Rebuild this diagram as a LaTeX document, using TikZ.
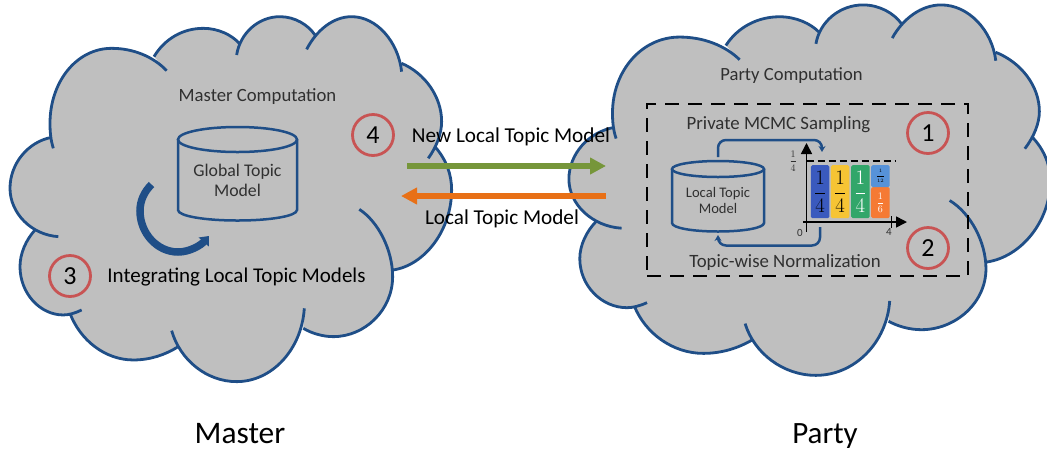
\documentclass[tikz,border=0pt]{standalone}
\usepackage{amsmath}
\usepackage{fontspec}
\setmainfont{Carlito}
\usepackage{tikz}
\usetikzlibrary{arrows.meta}
\definecolor{cloudgray}{RGB}{191,191,191}
\definecolor{cloudblue}{RGB}{31,78,135}
\definecolor{ringred}{RGB}{200,84,84}
\definecolor{inkgray}{RGB}{48,48,48}
\definecolor{newgreen}{RGB}{118,150,58}
\definecolor{localorange}{RGB}{232,112,22}
\definecolor{barblue}{RGB}{58,90,190}
\definecolor{baryellow}{RGB}{246,196,52}
\definecolor{bargreen}{RGB}{50,166,106}
\definecolor{barsky}{RGB}{86,146,216}
\definecolor{barorange}{RGB}{245,122,52}
\newcommand*{\fsize}[1]{\fontsize{#1}{#1}\selectfont}
% lobes of one cloud; #1 joins them (-- for the fill, nothing for the outline)
\newcommand*{\cloudlobes}[1]{
(160,445) .. controls (152,420) and (150,395) .. (150,370) .. controls (150,245) and (230,145) .. (335,145) .. controls (400,145) and (460,170) .. (500,212) #1
(462,170) .. controls (495,115) and (550,85) .. (610,85) .. controls (655,85) and (695,105) .. (718,130) #1
(710,165) .. controls (720,100) and (775,50) .. (840,50) .. controls (885,50) and (925,75) .. (945,105) #1
(920,148) .. controls (950,90) and (1000,50) .. (1055,50) .. controls (1130,50) and (1195,125) .. (1205,215) #1
(1205,190) .. controls (1275,220) and (1325,290) .. (1325,365) .. controls (1325,400) and (1310,440) .. (1285,475) #1
(1305,440) .. controls (1340,480) and (1355,525) .. (1355,570) .. controls (1355,690) and (1275,795) .. (1180,810) #1
(1078,628) .. controls (1135,665) and (1178,750) .. (1178,830) .. controls (1178,930) and (1095,1010) .. (1000,1010) .. controls (968,1010) and (935,1000) .. (910,985) #1
(913,925) .. controls (905,1050) and (815,1145) .. (710,1145) .. controls (620,1145) and (540,1080) .. (515,992) #1
(535,1040) .. controls (495,1065) and (450,1080) .. (400,1080) .. controls (315,1080) and (240,1020) .. (210,940) #1
(245,930) .. controls (225,940) and (205,945) .. (190,945) .. controls (120,945) and (60,880) .. (60,800) .. controls (60,760) and (78,720) .. (105,690) #1
(175,710) .. controls (95,705) and (30,640) .. (30,565) .. controls (30,490) and (85,425) .. (155,412)
}
\begin{document}
\begin{tikzpicture}[x=1pt, y=-1pt,
every text node part/.style={align=center},
store/.style={draw=cloudblue, line width=2.5pt},
str/.style={rectangle, inner sep=0pt, text=inkgray},
step label/.style={circle, draw=ringred, line width=2.8pt, minimum size=41pt, inner sep=0pt, text=black, font=\fsize{26}},
bar/.style={rectangle, inner sep=0pt, minimum width=18.5pt, rounded corners=1.5pt, anchor=north west},
loop/.style={-{Stealth[length=6pt,width=7pt]}, draw=cloudblue, line width=2.5pt, rounded corners=8pt},
axis/.style={-{Triangle[length=11pt,width=11pt]}, black, line width=1.6pt},
flow/.style={-{Triangle[length=16pt,width=16pt]}, line width=5.5pt}]

\useasboundingbox (0,0) rectangle (1047,451);

% clouds
\begin{scope}[x=0.3333pt, y=-0.3333pt]
\fill[cloudgray] \cloudlobes{--} -- cycle;
\draw[cloudblue, line width=2.8pt] \cloudlobes{};
\end{scope}
\begin{scope}[shift={(558,-12)}, x=0.3633pt, y=-0.3383pt]
\fill[cloudgray] \cloudlobes{--} -- cycle;
\draw[cloudblue, line width=2.8pt] \cloudlobes{};
\end{scope}

% master side
\node[str, font=\fsize{18.7}] (mastertitle) at (257.5,96.5) {Master Computation};
\draw[store] (178,139.5) .. controls +(0,-7) and +(-33,0) .. (237.5,127) .. controls +(33,0) and +(0,-7) .. (297,139.5)
 .. controls +(0,7) and +(33,0) .. (237.5,152) .. controls +(-33,0) and +(0,7) .. cycle;
\draw[store] (178,139.5) -- (178,210) .. controls +(0,6) and +(-33,0) .. (237.5,220.5) .. controls +(33,0) and +(0,6) .. (297,210) -- (297,139.5);
\node[str, font=\fsize{17.8}] (globaldb) at (237.5,180) {Global Topic\\[2pt]Model};
\draw[cloudblue, line width=7.5pt, -{Triangle[length=8pt,width=13pt]}] (151.5,184.5) .. controls (144,192) and (140,201) .. (140,211)
 .. controls (140,233) and (157,252) .. (178,252) .. controls (190,252) and (201,245) .. (209,236);
\node[step label] (step3) at (70,276) {3};
\node[str, text=black, font=\fsize{21}] (integrate) at (236.5,277.5) {Integrating Local Topic Models};
\node[step label] (step4) at (373,135) {4};

% messages
\coordinate (newstart) at (407,166);
\coordinate (newend) at (606,166);
\coordinate (localstart) at (606,196);
\coordinate (localend) at (401,196);
\draw[flow, newgreen] (newstart) -- (newend);
\draw[flow, localorange] (localstart) -- (localend);
\node[str, text=black, font=\fsize{21.2}] (newmodel) at (511,137) {New Local Topic Model};
\node[str, text=black, font=\fsize{21.2}] (localmodel) at (502,219) {Local Topic Model};

% party side
\node[str, font=\fsize{18.6}] (partytitle) at (791.5,76) {Party Computation};
\node[rectangle, draw=black, line width=2.2pt, dash pattern=on 14pt off 9pt, minimum width=321pt, minimum height=172pt, inner sep=0pt] (privatebox) at (807.5,190) {};
\node[str, font=\fsize{18.8}] (sampling) at (778.5,125) {Private MCMC Sampling};
\node[str, font=\fsize{18.8}] (normal) at (785,262) {Topic-wise Normalization};
\node[step label] (step1) at (928,133) {1};
\node[step label] (step2) at (928,248) {2};
\draw[store] (672,169) .. controls +(0,-4.5) and +(-25,0) .. (718,161) .. controls +(25,0) and +(0,-4.5) .. (764,169)
 .. controls +(0,4.5) and +(25,0) .. (718,177) .. controls +(-25,0) and +(0,4.5) .. cycle;
\draw[store] (672,169) -- (672,223) .. controls +(0,5) and +(-25,0) .. (718,231.5) .. controls +(25,0) and +(0,5) .. (764,223) -- (764,169);
\node[str, font=\fsize{14.6}] (localdb) at (718,200.5) {Local Topic\\[1pt]Model};

% chart
\coordinate (yfoot) at (806.5,232);
\coordinate (ytop) at (806.5,143);
\coordinate (xfoot) at (803,222);
\coordinate (xtip) at (907,222);
\coordinate (dashstart) at (806.5,161);
\coordinate (dashend) at (895,161);
\coordinate (ticktop) at (891.5,216);
\coordinate (tickfoot) at (891.5,228);
\node[bar, fill=barblue, minimum height=53pt] (bar1) at (810.7,165) {\fsize{20.74}$\dfrac{1}{4}$};
\node[bar, fill=baryellow, minimum height=53pt] (bar2) at (830.7,165) {\fsize{20.74}$\dfrac{1}{4}$};
\node[bar, fill=bargreen, minimum height=53pt, text=white] (bar3) at (851,165) {\fsize{20.74}$\dfrac{1}{4}$};
\node[bar, fill=barorange, minimum height=31pt, text=white] (bar4) at (871,187) {\fsize{10}$\dfrac{1}{6}$};
\node[bar, fill=barsky, minimum height=22pt] (bar5) at (871,165) {\fsize{5}$\dfrac{1}{12}$};
\draw[axis] (yfoot) -- (ytop);
\draw[axis] (xfoot) -- (xtip);
\draw[black, line width=1.6pt] (ticktop) -- (tickfoot);
\draw[black, line width=1.4pt, dash pattern=on 7pt off 4pt] (dashstart) -- (dashend);
\node[str, text=inkgray, font=\fsize{10}] (ytick) at (793,161) {$\dfrac{1}{4}$};
\node[str, font=\fsize{11}] (origin) at (800,233) {0};
\node[str, font=\fsize{11}] (xtick) at (889,232) {4};
\coordinate (localtop) at (718,157);
\coordinate (looptop) at (718,140);
\coordinate (loopin) at (822,152);
\coordinate (loopout) at (820,227);
\coordinate (loopfoot) at (718,245.5);
\coordinate (backin) at (718,235);
\draw[loop] (localtop) -- (looptop) -| (loopin);
\draw[loop] (loopout) |- (loopfoot) -- (backin);

\node[str, text=black, font=\fsize{31.4}] (master) at (240,434) {Master};
\node[str, text=black, font=\fsize{31}] (party) at (825,436) {Party};

\end{tikzpicture}
\end{document}
